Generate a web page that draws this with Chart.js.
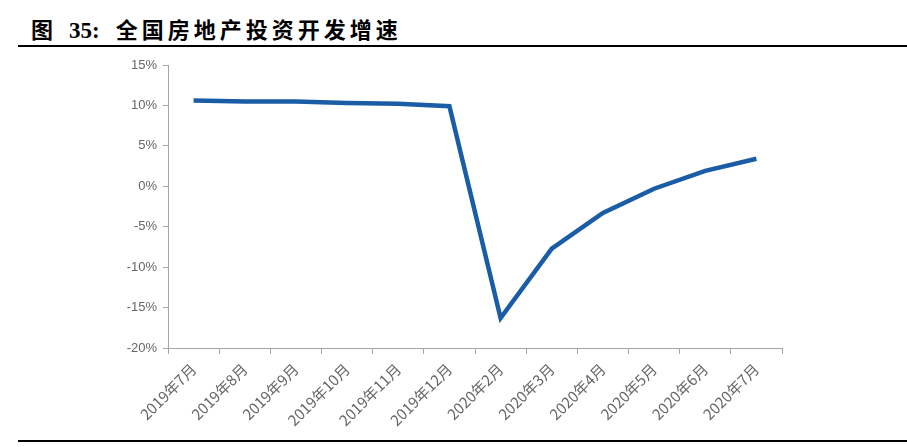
<!DOCTYPE html>
<html>
<head>
<meta charset="utf-8">
<script src="https://cdn.jsdelivr.net/npm/chart.js@4.4.0/dist/chart.umd.min.js"></script>
<style>
  html, body { margin: 0; padding: 0; background: #fff; }
  #wrap { position: relative; width: 907px; height: 447px; overflow: hidden; }
  #title {
    position: absolute; left: 31px; top: 14px;
    font-family: "Noto Sans CJK SC", sans-serif; font-weight: bold;
    font-size: 22px; line-height: 28px; color: #000; white-space: nowrap;
  }
  #title .num { font-family: "Liberation Serif", serif; font-size: 23px; margin-left: 16px; margin-right: 16px; }
  #title .cn { letter-spacing: 4px; }
  #topline { position: absolute; left: 18px; right: 0; top: 45px; height: 2px; background: #000; }
  #botline { position: absolute; left: 18px; right: 0; top: 440px; height: 2px; background: #000; }
  #box { position: absolute; left: 0; top: 0; width: 907px; height: 447px; }
</style>
</head>
<body>
<div id="wrap">
  <div id="title">图<span class="num">35:</span><span class="cn">全国房地产投资开发增速</span></div>
  <div id="topline"></div>
  <div id="box"><canvas id="c"></canvas></div>
  <div id="botline"></div>
</div>
<script>
const months = ['2019年7月', '2019年8月', '2019年9月', '2019年10月', '2019年11月', '2019年12月',
  '2020年2月', '2020年3月', '2020年4月', '2020年5月', '2020年6月', '2020年7月'];
const growth = [10.6, 10.5, 10.5, 10.3, 10.2, 9.9, -16.3, -7.7, -3.3, -0.3, 1.9, 3.4];
const yMin = -20;
const yMax = 15;
const yStep = 5;

const axisGray = '#a6a6a6';
const labelGray = '#666666';

new Chart(document.getElementById('c').getContext('2d'), {
  type: 'line',
  data: {
    labels: months,
    datasets: [{
      data: growth,
      borderColor: '#1a5da6',
      borderWidth: 4.5,
      pointRadius: 0,
      tension: 0,
      fill: false
    }]
  },
  options: {
    responsive: true,
    maintainAspectRatio: false,
    animation: false,
    layout: { padding: { top: 65, right: 125, bottom: 19, left: 0 } },
    plugins: { legend: { display: false }, tooltip: { enabled: false } },
    scales: {
      x: {
        offset: true,
        grid: { display: true, offset: true, drawOnChartArea: false, drawTicks: true, tickLength: 6, color: axisGray },
        border: { display: true, color: axisGray, width: 1 },
        ticks: {
          maxRotation: 45, minRotation: 45, autoSkip: false,
          color: labelGray,
          padding: 6,
          font: { family: '"Noto Sans CJK SC", sans-serif', size: 15 }
        },
        afterFit: s => { s.height = 80; }
      },
      y: {
        min: yMin, max: yMax,
        grid: { display: true, drawOnChartArea: false, drawTicks: true, tickLength: 5, color: axisGray },
        border: { display: true, color: axisGray, width: 1 },
        ticks: {
          stepSize: yStep,
          color: labelGray,
          padding: 6,
          font: { family: '"Liberation Sans", sans-serif', size: 13 },
          callback: v => v + '%'
        },
        afterFit: s => { s.width = 168; }
      }
    }
  }
});
</script>
</body>
</html>
